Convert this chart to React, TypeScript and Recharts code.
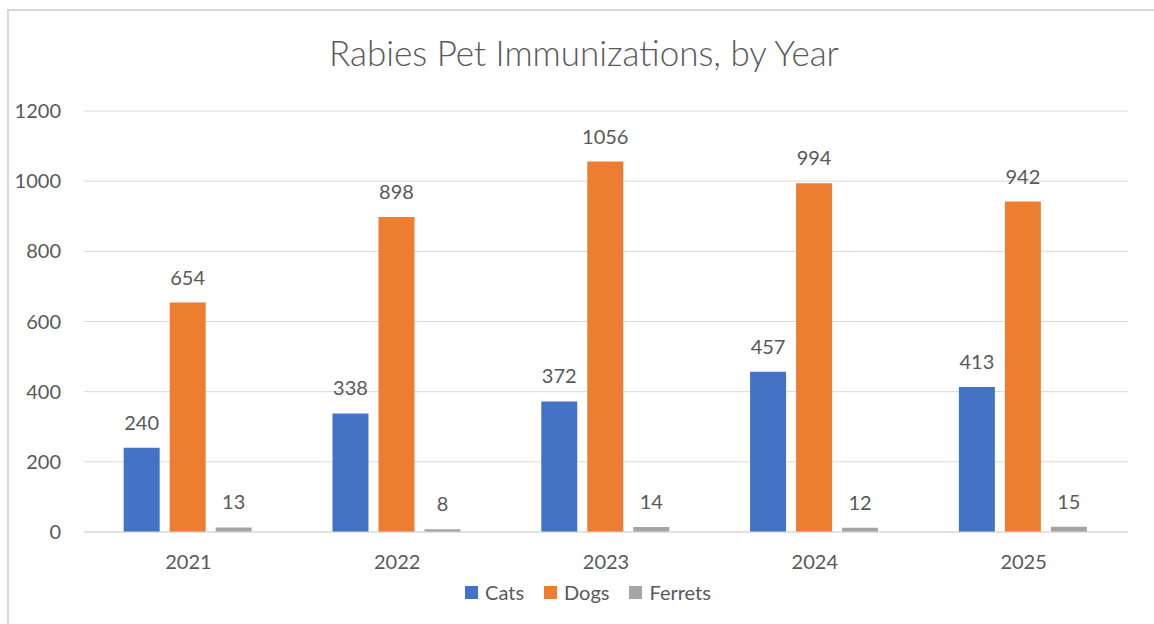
import { Bar, BarChart, CartesianGrid, LabelList, Legend, XAxis, YAxis } from "recharts";

const years = ["2021", "2022", "2023", "2024", "2025"];
const cats = [240, 338, 372, 457, 413];
const dogs = [654, 898, 1056, 994, 942];
const ferrets = [13, 8, 14, 12, 15];
const yTicks = [0, 200, 400, 600, 800, 1000, 1200];

const series = [
  { key: "Cats", fill: "#4472C4" },
  { key: "Dogs", fill: "#ED7D31" },
  { key: "Ferrets", fill: "#A5A5A5" },
];

const data = years.map((year, i) => ({
  year,
  Cats: cats[i],
  Dogs: dogs[i],
  Ferrets: ferrets[i],
}));

const FONT = "Lato, 'Noto Sans', sans-serif";
const INK = "#595959";

function LegendRow() {
  return (
    <div
      style={{
        display: "flex",
        justifyContent: "center",
        alignItems: "center",
        height: 24,
        fontFamily: FONT,
        fontSize: 20,
        color: INK,
      }}
    >
      {series.map((s, i) => (
        <span
          key={s.key}
          style={{ display: "flex", alignItems: "center", marginLeft: i ? 20 : 0 }}
        >
          <span style={{ width: 13, height: 13, background: s.fill, marginRight: 7 }} />
          {s.key}
        </span>
      ))}
    </div>
  );
}

export default function App() {
  return (
    <div
      style={{
        position: "absolute",
        left: 0,
        top: 0,
        width: 1154,
        height: 624,
        overflow: "hidden",
        background: "#fff",
      }}
    >
      <div
        style={{
          position: "absolute",
          left: 7,
          top: 9,
          width: 1200,
          height: 700,
          border: "2px solid #d9d9d9",
          boxSizing: "border-box",
        }}
      />
      <div
        style={{
          position: "absolute",
          left: 0,
          top: 35,
          width: 1168,
          textAlign: "center",
          fontFamily: FONT,
          fontWeight: 300,
          fontSize: 35,
          lineHeight: "35px",
          color: INK,
        }}
      >
        Rabies Pet Immunizations, by Year
      </div>
      <div style={{ position: "absolute", left: 0, top: 0 }}>
        <BarChart
          width={1154}
          height={624}
          data={data}
          margin={{ top: 111, right: 26, bottom: 38, left: 24 }}
          barCategoryGap="19%"
          barGap={10}
        >
          <CartesianGrid vertical={false} stroke="#d9d9d9" />
          <XAxis
            dataKey="year"
            height={30}
            tickLine={false}
            axisLine={{ stroke: "#d9d9d9" }}
            tickSize={0}
            tickMargin={23}
            tick={{ fill: INK, fontSize: 20, fontFamily: FONT }}
          />
          <YAxis
            width={60}
            domain={[0, 1200]}
            ticks={yTicks}
            tickLine={false}
            axisLine={false}
            tickSize={0}
            tickMargin={23}
            tick={{ fill: INK, fontSize: 20, fontFamily: FONT }}
          />
          <Legend
            verticalAlign="bottom"
            wrapperStyle={{ left: 22, width: 1132, top: 580 }}
            content={() => <LegendRow />}
          />
          {series.map((s) => (
            <Bar key={s.key} dataKey={s.key} fill={s.fill} isAnimationActive={false}>
              <LabelList
                dataKey={s.key}
                position="top"
                offset={18}
                fill={INK}
                fontSize={20}
                fontFamily={FONT}
              />
            </Bar>
          ))}
        </BarChart>
      </div>
    </div>
  );
}
